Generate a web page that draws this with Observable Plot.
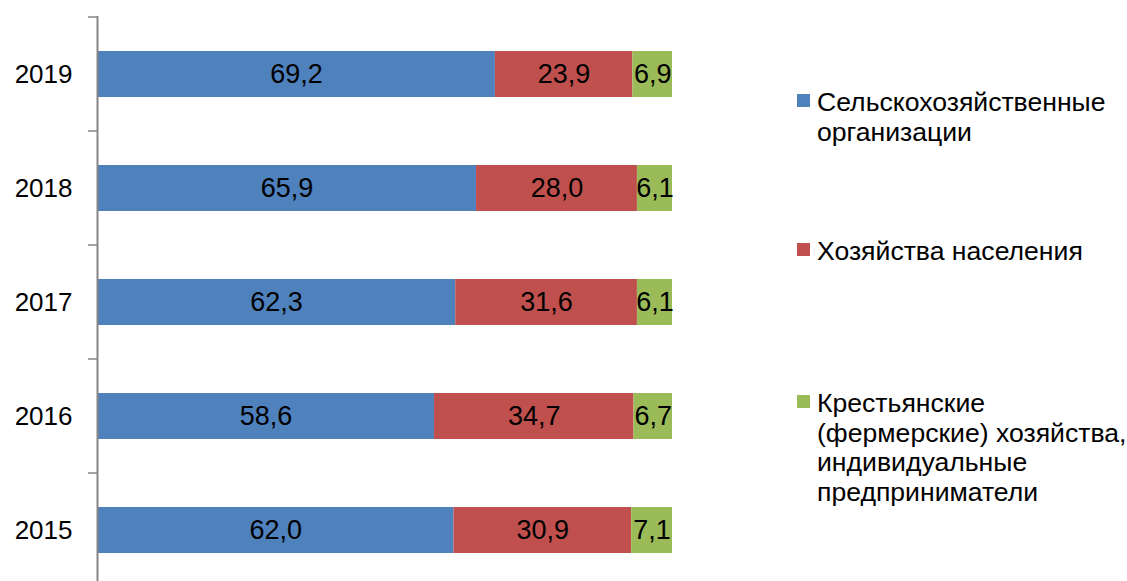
<!DOCTYPE html>
<html>
<head>
<meta charset="utf-8">
<script src="https://cdn.jsdelivr.net/npm/d3@7"></script>
<script src="https://cdn.jsdelivr.net/npm/@observablehq/plot@0.6"></script>
<style>
  html, body { margin: 0; padding: 0; background: #fff; }
  #wrap { position: relative; width: 1127px; height: 581px; overflow: hidden; font-family: "Liberation Sans", Arial, sans-serif; }
  #chart { position: absolute; left: 0; top: 0; }
  .leg { position: absolute; left: 797px; font-size: 26.6px; line-height: 29.5px; color: #000; }
  .leg .sw { position: absolute; left: 0; width: 13px; height: 13px; }
  .leg .tx { position: absolute; left: 20px; white-space: nowrap; }
</style>
</head>
<body>
<div id="wrap"><div id="chart"></div></div>
<script>
const years = ["2015", "2016", "2017", "2018", "2019"];
const seriesNames = [
  "Сельскохозяйственные организации",
  "Хозяйства населения",
  "Крестьянские (фермерские) хозяйства, индивидуальные предприниматели"
];
const legendLines = [
  ["Сельскохозяйственные", "организации"],
  ["Хозяйства населения"],
  ["Крестьянские", "(фермерские) хозяйства,", "индивидуальные", "предприниматели"]
];
const orgs       = [62.0, 58.6, 62.3, 65.9, 69.2];
const households = [30.9, 34.7, 31.6, 28.0, 23.9];
const farmers    = [7.1, 6.7, 6.1, 6.1, 6.9];
const colors = ["#4F81BD", "#C0504D", "#9BBB59"];

const seriesValues = [orgs, households, farmers];
const data = [];
seriesValues.forEach((vals, si) => {
  years.forEach((yr, i) => data.push({year: yr, series: seriesNames[si], value: vals[i]}));
});
const fmt = v => d3.format(".1f")(v).replace(".", ",");

const plot = Plot.plot({
  width: 1127,
  height: 581,
  marginLeft: 97,
  marginRight: 455,
  marginTop: 16,
  marginBottom: 0,
  style: {fontFamily: "'Liberation Sans', Arial, sans-serif", fontSize: "26px", color: "#000", background: "#fff"},
  x: {domain: [0, 100], axis: null},
  y: {domain: years.slice().reverse(), range: [16, 588.5], paddingInner: 0.6, paddingOuter: 0.3, tickSize: 0, tickPadding: 25, label: null},
  color: {domain: seriesNames, range: colors},
  marks: [
    Plot.barX(data, Plot.stackX({x: "value", y: "year", fill: "series", z: "series"})),
    Plot.text(data, Plot.stackX({x: "value", y: "year", z: "series", text: d => fmt(d.value), fill: "#000", fontSize: 27})),
    Plot.ruleX([0], {stroke: "#868686", strokeWidth: 2})
  ]
});
document.getElementById("chart").appendChild(plot);

// category-boundary tick marks on the y axis
const ys = plot.scale("y");
const xs = plot.scale("x");
const gap = ys.step - ys.bandwidth;
const bounds = years.map(y => ys.apply(y) - gap / 2);
bounds.push(d3.max(years, y => ys.apply(y)) + ys.bandwidth + gap / 2);
const x0 = xs.apply(0);
d3.select(plot).append("g")
  .selectAll("line").data(bounds).join("line")
  .attr("x1", x0 - 9).attr("x2", x0)
  .attr("y1", d => d).attr("y2", d => d)
  .attr("stroke", "#868686").attr("stroke-width", 1.5);

// legend
const legendTops = [88, 237, 389];
const wrap = document.getElementById("wrap");
seriesNames.forEach((name, i) => {
  const item = document.createElement("div");
  item.className = "leg";
  item.style.top = legendTops[i] + "px";
  const sw = document.createElement("div");
  sw.className = "sw";
  sw.style.background = colors[i];
  sw.style.top = "6px";
  const tx = document.createElement("div");
  tx.className = "tx";
  tx.innerHTML = legendLines[i].join("<br>");
  item.appendChild(sw);
  item.appendChild(tx);
  wrap.appendChild(item);
});
</script>
</body>
</html>
